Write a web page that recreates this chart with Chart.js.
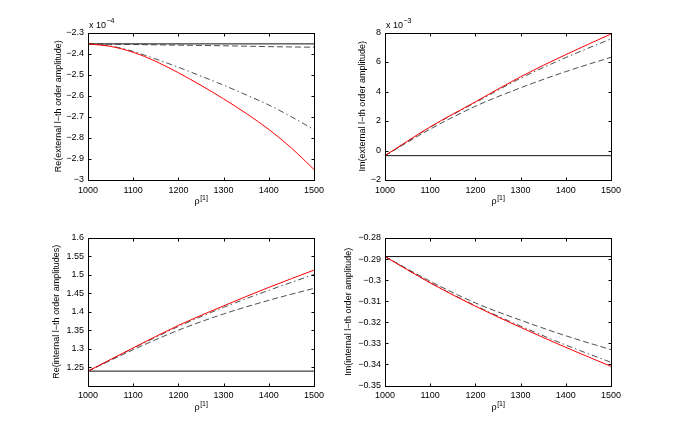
<!DOCTYPE html>
<html>
<head>
<meta charset="utf-8">
<script src="https://cdn.jsdelivr.net/npm/chart.js@4.4.1/dist/chart.umd.min.js"></script>
<style>
  html, body { margin: 0; padding: 0; background: #fff; }
  #fig { position: relative; width: 675px; height: 434px; }
  #fig canvas { position: absolute; left: 0; top: 0; width: 675px; height: 434px; }
</style>
</head>
<body>
<div id="fig">
  <canvas id="ax-ext-re" width="675" height="434"></canvas>
  <canvas id="ax-ext-im" width="675" height="434"></canvas>
  <canvas id="ax-int-re" width="675" height="434"></canvas>
  <canvas id="ax-int-im" width="675" height="434"></canvas>
</div>
<script>
// rho^[1] sample points
const rho = [1000, 1100, 1200, 1300, 1400, 1500];
const rhoFine = [1000, 1050, 1100, 1150, 1200, 1250, 1300, 1350, 1400, 1450, 1500];
const rhoEnds = [1000, 1500];

// Re(external) — values in units of 1e-4
const extReRef = [-2.354, -2.354];
const extReDashed = [-2.354, -2.357, -2.360, -2.363, -2.367, -2.370];
const extReDashDot = [-2.354, -2.364, -2.390, -2.426, -2.465, -2.507, -2.550, -2.596, -2.644, -2.700, -2.761];
const extReRed = [-2.354, -2.366, -2.394, -2.437, -2.491, -2.551, -2.615, -2.684, -2.760, -2.848, -2.950];

// Im(external) — values in units of 1e-3
const extImRef = [-0.35, -0.35];
const extImDashed = [-0.35, 1.45, 3.0, 4.25, 5.35, 6.32];
const extImDashDot = [-0.35, 1.58, 3.25, 4.9, 6.3, 7.57];
const extImRed = [-0.35, 1.6, 3.3, 5.0, 6.5, 7.9];

// Re(internal)
const intReRef = [1.239, 1.239];
const intReDashed = [1.239, 1.297, 1.350, 1.394, 1.431, 1.4635];
const intReDashDot = [1.239, 1.301, 1.360, 1.412, 1.458, 1.501];
const intReRed = [1.239, 1.302, 1.363, 1.416, 1.466, 1.513];

// Im(internal)
const intImRef = [-0.2888, -0.2888];
const intImDashed = [-0.2888, -0.3005, -0.3108, -0.3190, -0.3264, -0.3330];
const intImDashDot = [-0.2888, -0.3012, -0.3121, -0.3218, -0.3308, -0.3390];
const intImRed = [-0.2888, -0.3013, -0.3124, -0.3224, -0.3319, -0.3409];

const FONT = "'Liberation Sans', Arial, Helvetica, sans-serif";
const font9 = { family: FONT, size: 9 };

// box, inward ticks, x label and exponent, matlab style
const matlabBox = {
  id: 'matlabBox',
  afterDatasetsDraw(chart, args, opts) {
    const { ctx, chartArea: a, scales: { x, y } } = chart;
    const l = Math.round(a.left) + 0.5, r = Math.round(a.right) + 0.5;
    const t = Math.round(a.top) + 0.5, b = Math.round(a.bottom) + 0.5;
    ctx.save();
    ctx.strokeStyle = '#000';
    ctx.lineWidth = 1;
    ctx.strokeRect(l, t, r - l, b - t);
    ctx.beginPath();
    x.ticks.forEach(tk => {
      const px = Math.round(x.getPixelForValue(tk.value)) + 0.5;
      ctx.moveTo(px, b); ctx.lineTo(px, b - 3);
      ctx.moveTo(px, t); ctx.lineTo(px, t + 3);
    });
    y.ticks.forEach(tk => {
      const py = Math.round(y.getPixelForValue(tk.value)) + 0.5;
      ctx.moveTo(l, py); ctx.lineTo(l + 3, py);
      ctx.moveTo(r, py); ctx.lineTo(r - 3, py);
    });
    ctx.stroke();

    ctx.fillStyle = '#000';
    ctx.textBaseline = 'alphabetic';
    ctx.textAlign = 'left';
    // x label: rho^[1]
    ctx.font = '9px ' + FONT;
    const w1 = ctx.measureText('\u03c1').width;
    ctx.font = '7px ' + FONT;
    const w2 = ctx.measureText('[1]').width;
    const x0 = (a.left + a.right) / 2 - (w1 + w2) / 2;
    ctx.font = '9px ' + FONT;
    ctx.fillText('\u03c1', x0, a.bottom + 24);
    ctx.font = '7px ' + FONT;
    ctx.fillText('[1]', x0 + w1 + 0.5, a.bottom + 20);

    // exponent label
    if (opts.exponent) {
      ctx.font = '9px ' + FONT;
      const wb = ctx.measureText('x 10').width;
      ctx.fillText('x 10', a.left + 1, a.top - 5);
      ctx.font = '7px ' + FONT;
      ctx.fillText(opts.exponent, a.left + 1 + wb + 0.5, a.top - 10);
    }
    ctx.restore();
  },
};

function series(xs, ys, color, dash, width) {
  return {
    data: xs.map((v, i) => ({ x: v, y: ys[i] })),
    borderColor: color,
    borderWidth: width,
    borderDash: dash,
    pointRadius: 0,
    fill: false,
    cubicInterpolationMode: 'monotone',
  };
}

function fmtTick(v) {
  return String(parseFloat(v.toFixed(3))).replace('-', '\u2212');
}

function makePanel(id, p) {
  const W = p.titleGap + 5.4;
  const [L, T, R, B] = p.box;
  return new Chart(document.getElementById(id), {
    type: 'line',
    data: {
      datasets: [
        series(p.redX, p.red, '#ff0000', [], 1),
        series(p.dashDotX, p.dashDot, '#222', [6, 3, 1.5, 3], 0.8),
        series(rho, p.dashed, '#222', [6, 3], 0.8),
        series(rhoEnds, p.ref, '#111', [], 1),
      ],
    },
    options: {
      responsive: false,
      animation: false,
      events: [],
      layout: { padding: { left: L - W, top: T, right: 675 - R, bottom: 434 - B - 30 } },
      plugins: {
        legend: { display: false },
        tooltip: { enabled: false },
        matlabBox: { exponent: p.exponent },
      },
      scales: {
        x: {
          type: 'linear', min: 1000, max: 1500,
          grid: { display: false, drawTicks: false }, border: { display: false },
          ticks: { stepSize: 100, padding: 5, color: '#000', font: font9, maxRotation: 0, autoSkip: false,
                   callback: v => String(v) },
          afterFit: s => { s.height = 30; },
        },
        y: {
          type: 'linear', min: p.yMin, max: p.yMax,
          grid: { display: false, drawTicks: false }, border: { display: false },
          ticks: { stepSize: p.yStep, padding: 4, color: '#000', font: font9, autoSkip: false,
                   callback: v => (p.hideBelow !== undefined && v < p.hideBelow) ? '' : fmtTick(v) },
          title: { display: true, text: p.title, color: '#000', font: font9, padding: 0 },
          afterFit: s => { s.width = W; },
        },
      },
    },
    plugins: [matlabBox],
  });
}

makePanel('ax-ext-re', {
  box: [88, 32.5, 314, 180], titleGap: 29,
  title: 'Re(external l\u2212th order amplitude)', exponent: '\u22124',
  yMin: -3, yMax: -2.3, yStep: 0.1,
  ref: extReRef, dashed: extReDashed,
  dashDotX: rhoFine, dashDot: extReDashDot, redX: rhoFine, red: extReRed,
});

makePanel('ax-ext-im', {
  box: [385, 32.5, 611, 180], titleGap: 22,
  title: 'Im(external l\u2212th order amplitude)', exponent: '\u22123',
  yMin: -2, yMax: 8, yStep: 2,
  ref: extImRef, dashed: extImDashed,
  dashDotX: rho, dashDot: extImDashDot, redX: rho, red: extImRed,
});

makePanel('ax-int-re', {
  box: [88, 238, 314, 385.5], titleGap: 31,
  title: 'Re(internal l\u2212th order amplitudes)',
  yMin: 1.2, yMax: 1.6, yStep: 0.05, hideBelow: 1.22,
  ref: intReRef, dashed: intReDashed,
  dashDotX: rho, dashDot: intReDashDot, redX: rho, red: intReRed,
});

makePanel('ax-int-im', {
  box: [385, 238, 611, 385.5], titleGap: 36,
  title: 'Im(internal l\u2212th order amplitude)',
  yMin: -0.35, yMax: -0.28, yStep: 0.01,
  ref: intImRef, dashed: intImDashed,
  dashDotX: rho, dashDot: intImDashDot, redX: rho, red: intImRed,
});
</script>
</body>
</html>
